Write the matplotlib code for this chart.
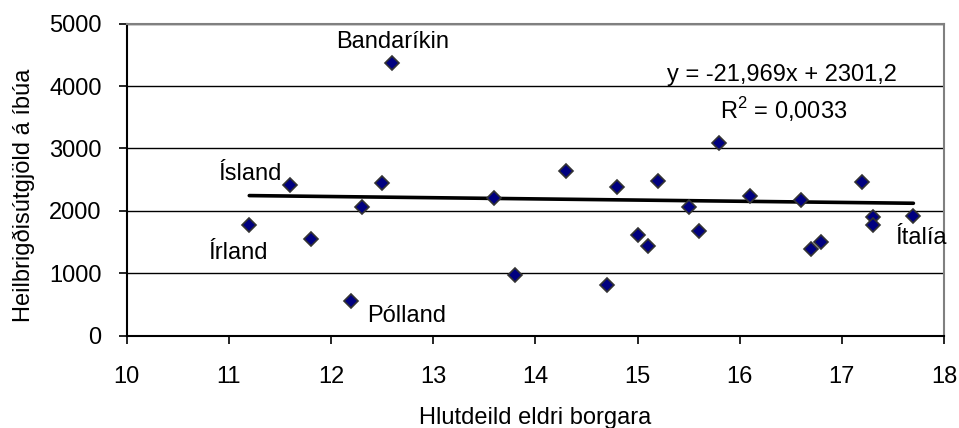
import matplotlib
matplotlib.use('Agg')
import matplotlib.pyplot as plt

plt.rcParams['font.family'] = ['Liberation Sans', 'DejaVu Sans']
plt.rcParams['mathtext.fontset'] = 'custom'
plt.rcParams['mathtext.rm'] = 'Liberation Sans'

# Share of elderly (x) vs health expenditure per capita (y)
hlutdeild = [11.2, 11.6, 11.8, 12.2, 12.3, 12.5, 12.6, 13.6, 13.8, 14.3, 14.7, 14.8, 15.0,
             15.1, 15.2, 15.5, 15.6, 15.8, 16.1, 16.6, 16.7, 16.8, 17.2, 17.3, 17.3, 17.7]
utgjold = [1775, 2415, 1545, 555, 2060, 2450, 4365, 2200, 975, 2640, 820, 2380, 1620,
           1430, 2480, 2060, 1685, 3085, 2235, 2170, 1385, 1495, 2455, 1895, 1775, 1910]

# trend line as drawn in the picture
trend_x = [11.2, 17.7]
trend_y = [2245, 2122]

# country labels: (text, x, y, ha)
land_labels = [('Bandaríkin', 12.6, 4700, 'center'),
               ('Ísland', 10.9, 2590, 'left'),
               ('Írland', 10.8, 1320, 'left'),
               ('Pólland', 12.35, 320, 'left'),
               ('Ítalía', 17.52, 1570, 'left')]

FS = 17

fig = plt.figure(figsize=(9.59, 4.28), dpi=100)
ax = fig.add_axes([0.1321, 0.2157, 0.8523, 0.729])

ax.set_xlim(10, 18)
ax.set_ylim(0, 5000)
ax.set_xticks(range(10, 19))
ax.set_yticks(range(0, 5001, 1000))
ax.grid(axis='y', color='black', linewidth=1.0)
ax.set_axisbelow(True)

ax.plot(trend_x, trend_y, color='black', linewidth=2.6, solid_capstyle='round', zorder=2)
ax.plot(hlutdeild, utgjold, linestyle='none', marker='D', markersize=6.8,
        markerfacecolor='#000080', markeredgecolor='#333333', markeredgewidth=1.2, zorder=3)

for txt, x, y, ha in land_labels:
    ax.text(x, y, txt, fontsize=FS, ha=ha, va='center')

ax.text(16.41, 4180, 'y = -21,969x + 2301,2', fontsize=FS, ha='center', va='center')
ax.text(16.43, 3620, 'R$^2$ = 0,0033', fontsize=FS, ha='center', va='center')

for s in ['left', 'bottom']:
    ax.spines[s].set_color('black')
    ax.spines[s].set_linewidth(1.5)
for s in ['top', 'right']:
    ax.spines[s].set_color('#808080')
    ax.spines[s].set_linewidth(1.5)

ax.tick_params(axis='both', direction='out', length=6, width=1.2, labelsize=FS, color='black')
ax.tick_params(axis='x', pad=16)
ax.tick_params(axis='y', pad=12)
ax.set_xlabel('Hlutdeild eldri borgara', fontsize=FS, va='baseline')
ax.xaxis.set_label_coords(0.5, -0.283)
ax.set_ylabel('Heilbrigðisútgjöld á íbúa', fontsize=FS, va='center')
ax.yaxis.set_label_coords(-0.126, 0.45)

fig.savefig('out.png', dpi=100)
